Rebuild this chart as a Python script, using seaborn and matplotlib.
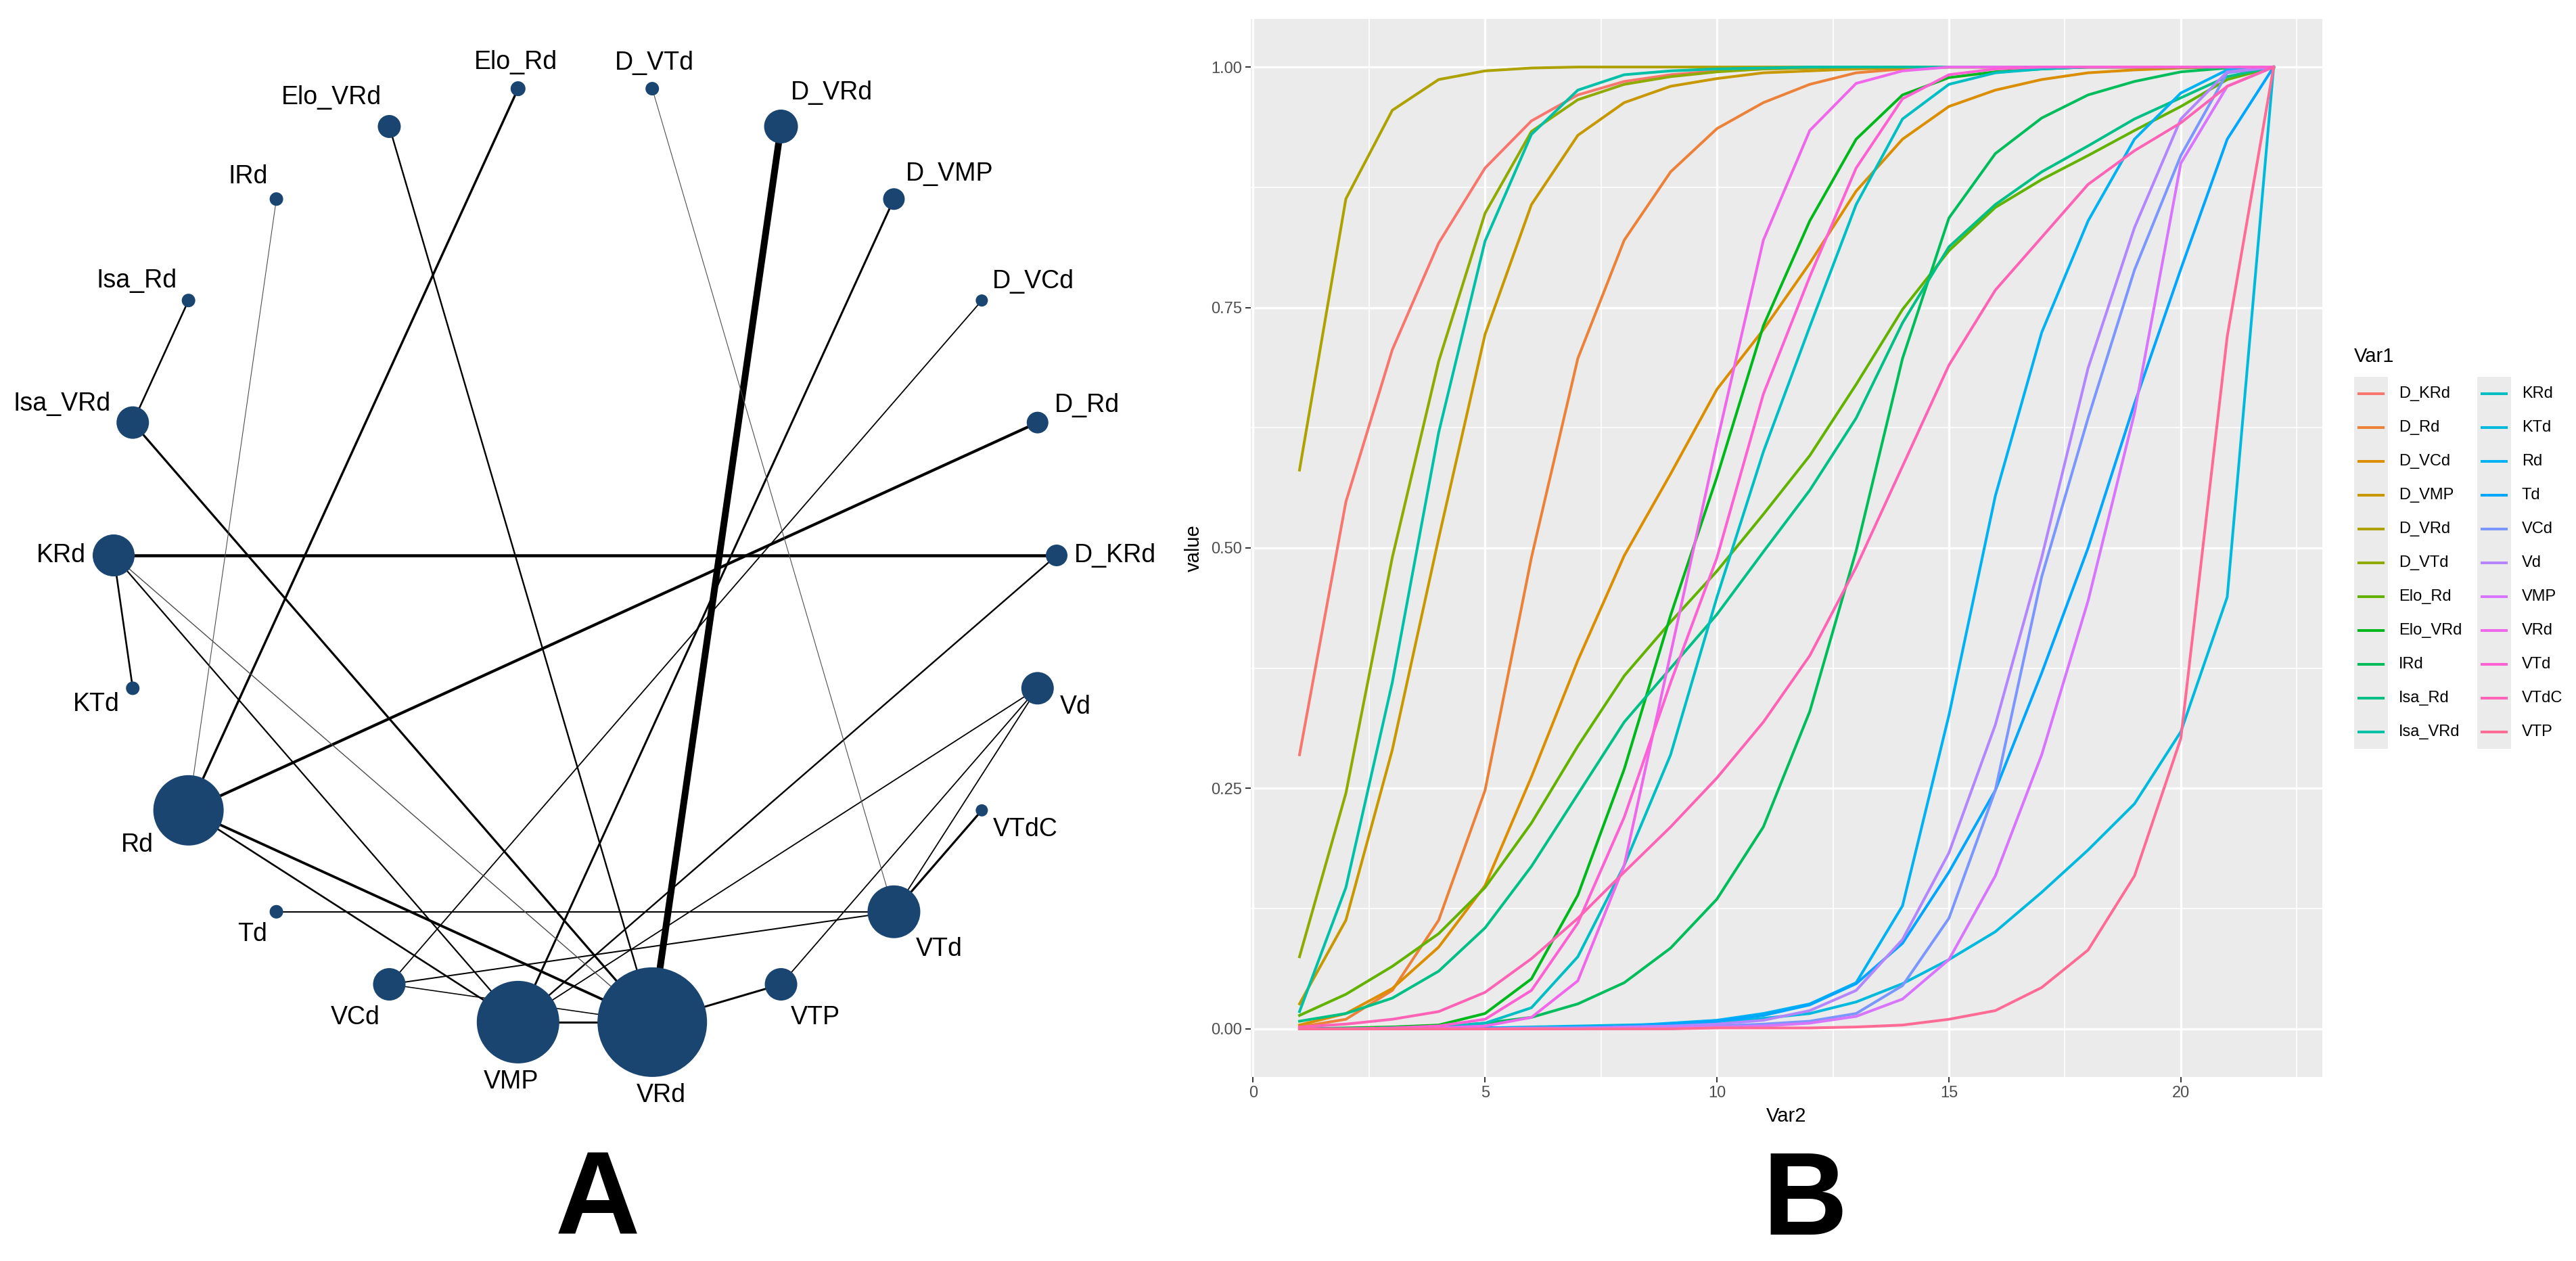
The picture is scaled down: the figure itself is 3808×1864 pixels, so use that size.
import numpy as np
import pandas as pd
import matplotlib
matplotlib.use("Agg")
import matplotlib.pyplot as plt
from matplotlib.patches import Rectangle
import seaborn as sns

W, H = 3808, 1864

# ---------------- panel A: network ----------------
node_names = ["D_KRd", "D_Rd", "D_VCd", "D_VMP", "D_VRd", "D_VTd", "Elo_Rd", "Elo_VRd",
              "IRd", "Isa_Rd", "Isa_VRd", "KRd", "KTd", "Rd", "Td", "VCd", "VMP", "VRd",
              "VTP", "VTd", "VTdC", "Vd"]
node_size = [16, 16, 9, 16, 25, 10, 11, 17, 10, 10, 24, 31, 10, 52, 10, 24, 61, 81, 24, 39, 9, 24]

edge_from = ["D_VRd", "KRd", "Rd", "Rd", "Elo_Rd", "Isa_VRd", "D_VMP", "VTd", "VTP", "VMP",
             "Isa_Rd", "KRd", "Rd", "Elo_VRd", "D_KRd", "KRd", "D_VCd", "Vd", "Vd", "Vd",
             "Td", "VCd", "VCd", "KRd", "IRd", "D_VTd"]
edge_to = ["VRd", "D_KRd", "D_Rd", "VRd", "Rd", "VRd", "VMP", "VTdC", "VRd", "VRd",
           "Isa_VRd", "KTd", "VMP", "VRd", "VMP", "VMP", "VCd", "VMP", "VTP", "VTd",
           "VTd", "VTd", "VRd", "VRd", "Rd", "VTd"]
edge_weight = [10, 4.5, 4.2, 3.8, 3.4, 3.2, 3.0, 3.2, 3.0, 3.0,
               2.6, 2.6, 2.6, 2.4, 2.4, 2.2, 1.8, 1.8, 1.8, 1.8,
               2.0, 2.0, 1.6, 1.4, 1.1, 1.1]

# ---------------- panel B: cumulative ranking curves ----------------
treatments = ["D_KRd", "D_Rd", "D_VCd", "D_VMP", "D_VRd", "D_VTd", "Elo_Rd", "Elo_VRd", "IRd",
              "Isa_Rd", "Isa_VRd", "KRd", "KTd", "Rd", "Td", "VCd", "Vd", "VMP", "VRd", "VTd",
              "VTdC", "VTP"]
rank = list(range(1, 23))

cum_D_KRd = [0.285, 0.548, 0.706, 0.817, 0.895, 0.944, 0.971, 0.985, 0.992, 0.996, 0.998, 0.999, 1, 1, 1, 1, 1, 1, 1, 1, 1, 1]
cum_D_Rd = [0.002, 0.010, 0.040, 0.113, 0.248, 0.490, 0.697, 0.820, 0.891, 0.936, 0.963, 0.982, 0.994, 0.998, 1, 1, 1, 1, 1, 1, 1, 1]
cum_D_VCd = [0.004, 0.016, 0.042, 0.085, 0.149, 0.262, 0.383, 0.492, 0.577, 0.665, 0.727, 0.796, 0.871, 0.925, 0.959, 0.976, 0.987, 0.994, 0.997, 0.999, 1, 1]
cum_D_VMP = [0.026, 0.113, 0.290, 0.510, 0.722, 0.857, 0.929, 0.963, 0.980, 0.988, 0.994, 0.996, 0.998, 0.999, 1, 1, 1, 1, 1, 1, 1, 1]
cum_D_VRd = [0.581, 0.863, 0.955, 0.987, 0.996, 0.999, 1, 1, 1, 1, 1, 1, 1, 1, 1, 1, 1, 1, 1, 1, 1, 1]
cum_D_VTd = [0.075, 0.245, 0.490, 0.694, 0.848, 0.933, 0.966, 0.982, 0.990, 0.995, 0.998, 0.999, 1, 1, 1, 1, 1, 1, 1, 1, 1, 1]
cum_Elo_Rd = [0.014, 0.036, 0.065, 0.099, 0.147, 0.214, 0.294, 0.367, 0.423, 0.476, 0.535, 0.596, 0.670, 0.748, 0.809, 0.854, 0.883, 0.908, 0.934, 0.959, 0.987, 1]
cum_Elo_VRd = [0.000, 0.001, 0.002, 0.004, 0.016, 0.052, 0.139, 0.270, 0.430, 0.574, 0.731, 0.840, 0.925, 0.971, 0.989, 0.995, 0.998, 1, 1, 1, 1, 1]
cum_IRd = [0.000, 0.000, 0.001, 0.002, 0.006, 0.012, 0.026, 0.048, 0.084, 0.135, 0.210, 0.330, 0.497, 0.697, 0.843, 0.910, 0.947, 0.971, 0.985, 0.995, 0.999, 1]
cum_Isa_Rd = [0.008, 0.016, 0.032, 0.060, 0.105, 0.169, 0.244, 0.319, 0.375, 0.431, 0.496, 0.560, 0.635, 0.734, 0.813, 0.857, 0.891, 0.918, 0.946, 0.968, 0.990, 1]
cum_Isa_VRd = [0.018, 0.147, 0.360, 0.620, 0.819, 0.930, 0.976, 0.992, 0.996, 0.998, 0.999, 1, 1, 1, 1, 1, 1, 1, 1, 1, 1, 1]
cum_KRd = [0.000, 0.000, 0.001, 0.002, 0.006, 0.022, 0.075, 0.170, 0.285, 0.449, 0.600, 0.730, 0.857, 0.946, 0.982, 0.994, 0.998, 1, 1, 1, 1, 1]
cum_KTd = [0.000, 0.000, 0.000, 0.001, 0.001, 0.002, 0.003, 0.004, 0.005, 0.007, 0.011, 0.016, 0.028, 0.047, 0.072, 0.101, 0.142, 0.186, 0.234, 0.309, 0.449, 1]
cum_Rd = [0, 0, 0, 0, 0.001, 0.001, 0.002, 0.003, 0.006, 0.009, 0.016, 0.026, 0.048, 0.128, 0.326, 0.554, 0.724, 0.840, 0.925, 0.973, 0.997, 1]
cum_Td = [0, 0, 0, 0, 0.001, 0.001, 0.002, 0.003, 0.005, 0.008, 0.014, 0.025, 0.047, 0.089, 0.163, 0.248, 0.370, 0.500, 0.650, 0.790, 0.925, 1]
cum_VCd = [0, 0, 0, 0, 0, 0, 0.001, 0.001, 0.002, 0.003, 0.005, 0.008, 0.016, 0.045, 0.115, 0.248, 0.470, 0.635, 0.789, 0.908, 0.994, 1]
cum_Vd = [0, 0, 0, 0, 0, 0.001, 0.001, 0.002, 0.003, 0.005, 0.009, 0.019, 0.040, 0.093, 0.183, 0.316, 0.490, 0.687, 0.833, 0.946, 0.995, 1]
cum_VMP = [0, 0, 0, 0, 0, 0, 0, 0.001, 0.001, 0.002, 0.003, 0.006, 0.013, 0.031, 0.072, 0.159, 0.285, 0.445, 0.640, 0.900, 0.980, 1]
cum_VRd = [0, 0, 0, 0.001, 0.003, 0.012, 0.050, 0.170, 0.390, 0.610, 0.820, 0.934, 0.983, 0.996, 1, 1, 1, 1, 1, 1, 1, 1]
cum_VTd = [0, 0, 0.001, 0.003, 0.010, 0.040, 0.110, 0.220, 0.360, 0.490, 0.660, 0.782, 0.895, 0.967, 0.992, 0.998, 1, 1, 1, 1, 1, 1]
cum_VTdC = [0.002, 0.005, 0.010, 0.018, 0.038, 0.073, 0.115, 0.163, 0.210, 0.261, 0.319, 0.388, 0.480, 0.585, 0.690, 0.768, 0.823, 0.878, 0.913, 0.942, 0.980, 1]
cum_VTP = [0, 0, 0, 0, 0, 0, 0, 0, 0, 0.001, 0.001, 0.001, 0.002, 0.004, 0.010, 0.019, 0.043, 0.082, 0.159, 0.302, 0.720, 1]

series = [cum_D_KRd, cum_D_Rd, cum_D_VCd, cum_D_VMP, cum_D_VRd, cum_D_VTd, cum_Elo_Rd,
          cum_Elo_VRd, cum_IRd, cum_Isa_Rd, cum_Isa_VRd, cum_KRd, cum_KTd, cum_Rd, cum_Td,
          cum_VCd, cum_Vd, cum_VMP, cum_VRd, cum_VTd, cum_VTdC, cum_VTP]

df = pd.DataFrame({
    "Var1": np.repeat(treatments, len(rank)),
    "Var2": np.tile(rank, len(treatments)),
    "value": np.concatenate(series),
})


def hcl_hex(h, c=100, l=65):
    # polarLUV -> sRGB, same as R's hcl() used by ggplot's hue palette
    xn, yn, zn = 95.047, 100.0, 108.883
    un = 4 * xn / (xn + 15 * yn + 3 * zn)
    vn = 9 * yn / (xn + 15 * yn + 3 * zn)
    u = c * np.cos(np.deg2rad(h))
    v = c * np.sin(np.deg2rad(h))
    Y = yn * ((l + 16) / 116) ** 3
    up = u / (13 * l) + un
    vp = v / (13 * l) + vn
    X = Y * 9 * up / (4 * vp)
    Z = Y * (12 - 3 * up - 20 * vp) / (4 * vp)
    m = np.array([[3.2404542, -1.5371385, -0.4985314],
                  [-0.9692660, 1.8760108, 0.0415560],
                  [0.0556434, -0.2040259, 1.0572252]])
    rgb = m @ (np.array([X, Y, Z]) / 100)
    rgb = np.where(rgb <= 0.0031308, 12.92 * rgb, 1.055 * np.abs(rgb) ** (1 / 2.4) - 0.055)
    rgb = np.clip(rgb, 0, 1)
    return "#%02X%02X%02X" % tuple(int(round(x * 255)) for x in rgb)


hues = 15 + 360 * np.arange(len(treatments)) / len(treatments)
palette = {t: hcl_hex(h) for t, h in zip(treatments, hues)}

plt.rcParams['font.family'] = ['Liberation Sans', 'DejaVu Sans']

fig = plt.figure(figsize=(W / 100, H / 100), dpi=100)
fig.patch.set_facecolor("white")

# panel B axes (pixel box)
axB = fig.add_axes([1849 / W, 1 - 1592 / H, (3433 - 1849) / W, (1592 - 28) / H])
sns.lineplot(data=df, x="Var2", y="value", hue="Var1", hue_order=treatments,
             palette=palette, linewidth=2.9, ax=axB, legend=False)
axB.set_xlim(-0.05, 23.05)
axB.set_ylim(-0.05, 1.05)
axB.set_facecolor("#EBEBEB")
axB.set_xticks([0, 5, 10, 15, 20])
axB.set_xticks([2.5, 7.5, 12.5, 17.5, 22.5], minor=True)
axB.set_yticks([0, 0.25, 0.5, 0.75, 1.0])
axB.set_yticks([0.125, 0.375, 0.625, 0.875], minor=True)
axB.set_yticklabels(["0.00", "0.25", "0.50", "0.75", "1.00"])
axB.grid(which="major", color="white", linewidth=2.4)
axB.grid(which="minor", color="white", linewidth=1.2)
axB.set_axisbelow(True)
for s in axB.spines.values():
    s.set_visible(False)
axB.tick_params(which="major", length=5.5, width=1.4, color="#333333",
                labelsize=17, labelcolor="#4D4D4D", pad=4)
axB.tick_params(which="minor", length=0)
axB.set_xlabel("Var2", fontsize=21, labelpad=6)
axB.set_ylabel("value", fontsize=21, labelpad=8)

# overlay in pixel coordinates: network, legend, panel letters
ax = fig.add_axes([0, 0, 1, 1])
ax.set_xlim(0, W)
ax.set_ylim(H, 0)
ax.axis("off")

cx, cy, R = 865, 821, 697
ang = 2 * np.pi * np.arange(len(node_names)) / len(node_names)
node_x = cx + R * np.cos(ang)
node_y = cy - R * np.sin(ang)
pos = {n: (x, y) for n, x, y in zip(node_names, node_x, node_y)}

for a, b, w in zip(edge_from, edge_to, edge_weight):
    (x0, y0), (x1, y1) = pos[a], pos[b]
    col = "#4D4D4D" if w < 1.5 else "black"
    ax.plot([x0, x1], [y0, y1], color=col, lw=w * 0.72, solid_capstyle="butt", zorder=1)

sizes = np.array(node_size, dtype=float)
ax.scatter(node_x, node_y, s=(2 * sizes * 0.72) ** 2, color="#1A4571", linewidths=0, zorder=2)

for n, a, r in zip(node_names, ang, sizes):
    c, s = np.cos(a), np.sin(a)
    x, y = pos[n]
    lx, ly = x + c * (r + 10), y - s * (r + 10)
    ha = "left" if c > 0.2 else ("right" if c < -0.2 else "center")
    va = "bottom" if s > 0.2 else ("top" if s < -0.2 else "center")
    ax.text(lx, ly, n, fontsize=27, ha=ha, va=va, color="black", zorder=3)

ax.text(883, 1825, "A", fontsize=125, fontweight="bold", ha="center", va="baseline")
ax.text(2668, 1825, "B", fontsize=125, fontweight="bold", ha="center", va="baseline")

# ggplot-style legend, two columns
ax.text(3480, 527, "Var1", fontsize=21, ha="left", va="center")
for i, t in enumerate(treatments):
    col, row = divmod(i, 11)
    kx = 3480 + col * 182
    ky = 582 + row * 50
    ax.add_patch(Rectangle((kx, ky - 25), 50, 50, facecolor="#EBEBEB", edgecolor="none", zorder=1))
    ax.plot([kx + 5, kx + 45], [ky, ky], color=palette[t], lw=2.9, solid_capstyle="butt", zorder=2)
    ax.text(kx + 66, ky, t, fontsize=17, ha="left", va="center")

fig.savefig("out.png", dpi=100, facecolor="white")
